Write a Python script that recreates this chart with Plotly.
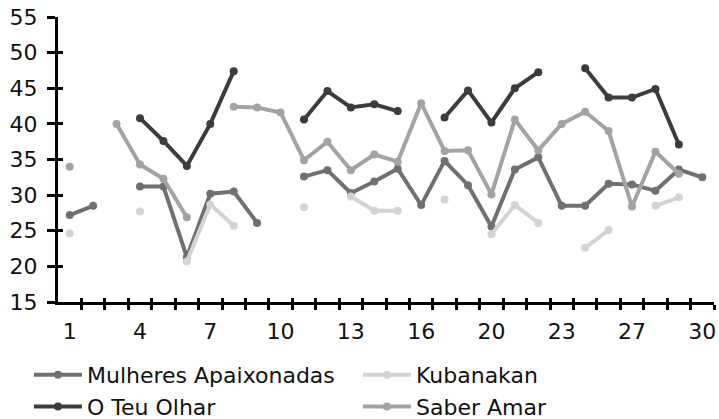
import plotly.graph_objects as go

# ---- data ----
categories = ["1", "2", "3", "4", "5", "6", "7", "8", "9", "10", "11", "12", "13", "14",
              "15", "16", "17", "18", "20", "21", "22", "23", "24", "25", "27", "28", "29", "30"]
tick_labels = ["1", "4", "7", "10", "13", "16", "20", "23", "27", "30"]

mulheres = [27.2, 28.5, None, 31.2, 31.2, 21.3, 30.2, 30.5, 26.1, None, 32.6, 33.5, 30.3, 31.9,
            33.7, 28.6, 34.8, 31.4, 25.6, 33.6, 35.3, 28.5, 28.5, 31.6, 31.5, 30.6, 33.6, 32.5]
teu_olhar = [None, None, None, 40.8, 37.6, 34.1, 40.0, 47.4, None, None, 40.6, 44.6, 42.3, 42.75,
             41.8, None, 40.9, 44.7, 40.2, 45.0, 47.25, None, 47.8, 43.7, 43.7, 44.9, 37.1, None]
kubanakan = [24.6, None, None, 27.7, None, 20.7, 28.7, 25.7, None, None, 28.3, None, 29.8, 27.8,
             27.8, None, 29.4, None, 24.5, 28.6, 26.1, None, 22.6, 25.1, None, 28.5, 29.7, None]
saber_amar = [34.0, None, 40.0, 34.3, 32.3, 26.9, None, 42.4, 42.3, 41.6, 34.9, 37.5, 33.5, 35.7,
              34.7, 42.9, 36.2, 36.3, 30.1, 40.6, 36.3, 40.0, 41.7, 39.0, 28.4, 36.1, 33.0, None]

series = [
    ("Mulheres Apaixonadas", mulheres, "#707070"),
    ("Kubanakan", kubanakan, "#d3d3d3"),
    ("O Teu Olhar", teu_olhar, "#3c3c3c"),
    ("Saber Amar", saber_amar, "#a3a3a3"),
]

idx = list(range(len(categories)))
label_pos = [categories.index(t) for t in tick_labels]
boundaries = [i + 0.5 for i in idx]

FONT = "DejaVu Sans"

fig = go.Figure()
for name, vals, color in series:
    fig.add_trace(go.Scatter(
        x=idx, y=vals, name=name, mode="lines+markers",
        line=dict(color=color, width=4),
        marker=dict(color=color, size=8),
        connectgaps=False,
    ))

# empty trace so the overlay axes (inner half of the cross ticks) exist
fig.add_trace(go.Scatter(x=[], y=[], xaxis="x2", yaxis="y2", showlegend=False))

xr = [-0.5, len(categories) - 0.5]
yr = [15, 55]

fig.update_layout(
    width=719, height=419,
    margin=dict(l=58, r=3, t=17, b=117),
    paper_bgcolor="white", plot_bgcolor="white",
    font=dict(family=FONT, size=22, color="#111111"),
    showlegend=True,
    legend=dict(
        orientation="h", xref="container", yref="container",
        x=0.0403, xanchor="left", y=0.155, yanchor="top",
        entrywidth=266, entrywidthmode="pixels",
        font=dict(family=FONT, size=22, color="#111111"),
        itemwidth=48, tracegroupgap=0,
    ),
    xaxis=dict(
        range=xr, showgrid=False, zeroline=False,
        showline=True, linecolor="black", linewidth=3,
        tickmode="array", tickvals=label_pos, ticktext=tick_labels,
        ticks="", ticklabelstandoff=8,
        minor=dict(tickmode="array", tickvals=boundaries, ticks="outside",
                   ticklen=5, tickwidth=3, tickcolor="black", showgrid=False),
    ),
    yaxis=dict(
        range=yr, showgrid=False, zeroline=False,
        showline=True, linecolor="black", linewidth=3,
        tickmode="linear", tick0=15, dtick=5,
        ticks="outside", ticklen=8, tickwidth=3, tickcolor="black",
        ticklabelstandoff=5,
    ),
    xaxis2=dict(
        overlaying="x", range=xr, showgrid=False, zeroline=False, showline=False,
        tickmode="array", tickvals=boundaries, ticks="inside", ticklen=4,
        tickwidth=3, tickcolor="black", showticklabels=False, anchor="y2",
    ),
    yaxis2=dict(
        overlaying="y", range=yr, showgrid=False, zeroline=False, showline=False,
        tickmode="linear", tick0=15, dtick=5, ticks="inside", ticklen=5,
        tickwidth=3, tickcolor="black", showticklabels=False, anchor="x2",
    ),
)

fig.write_html("out.html")
